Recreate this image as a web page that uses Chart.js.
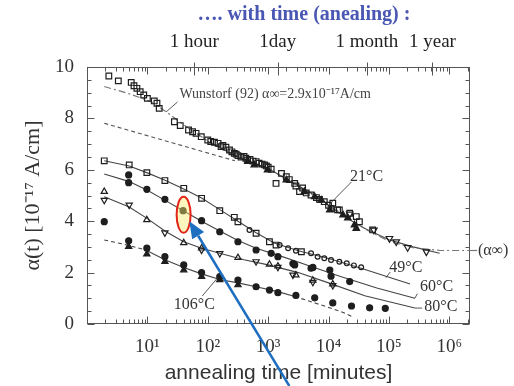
<!DOCTYPE html>
<html><head><meta charset="utf-8">
<script src="https://cdn.jsdelivr.net/npm/chart.js@4.4.0/dist/chart.umd.min.js"></script>
<style>html,body{margin:0;padding:0;background:#fff}#wrap{width:514px;height:386px}</style>
</head><body><div id="wrap"><canvas id="c" width="514" height="386"></canvas></div>
<script>
// ---- axis ticks ----
const xTickValues=[10,100,1000,10000,100000,1000000];
const xTickLabels=['10¹','10²','10³','10⁴','10⁵','10⁶'];
const yTickValues=[0,2,4,6,8,10];
const topTickValues=[60,1440,43200,525600];
const topTickLabels=['1 hour','1day','1 month','1 year'];

// ---- 21°C ----
const t21sq=[2.3,3.3,5.4,6.0,6.7,7.6,8.7,10,13,14.4,15.7,28,35,48,56,64,78,100,112,129,148,166,178,200,229,251,275,295,316,355,398,427,457,501,562,631,708,794,871,933,1000,1122,1350,1660,2000,2240,2750,2880,3310,3720,4270,5130,6300,7080,8500,10000,11000,11750,14100,15100,22400,28800,32400,53700];
const v21sq=[9.65,9.46,9.40,9.27,9.17,9.04,8.91,8.78,8.68,8.59,8.39,7.87,7.72,7.55,7.48,7.42,7.29,7.16,7.10,7.07,7.03,6.90,6.95,6.88,6.77,6.70,6.64,6.61,6.55,6.50,6.52,6.45,6.38,6.40,6.34,6.32,6.26,6.22,6.19,6.15,6.10,6.02,5.47,5.86,5.73,5.62,5.47,5.37,5.15,5.29,5.10,5.02,4.92,4.85,4.76,4.62,4.50,4.70,4.44,4.44,4.31,4.18,3.98,3.66];
const t21tri=[460,590,980,2000,3980,5900,7600,10500,17400,20900,26900,28800];
const v21tri=[6.32,6.19,5.99,5.60,5.15,4.95,4.82,4.44,4.24,4.12,3.85,3.72];
const t21inv=[22400,56200,102000,132000,204000,417000];
const v21inv=[4.28,3.66,3.33,3.20,2.98,2.81];
// ---- 49°C ----
const t49sq=[1.93,5.0,9.8,19.5,40,79,158,275,316,631,1050,1350,3550];
const v49sq=[6.35,6.19,5.89,5.58,5.28,4.89,4.41,4.15,3.98,3.53,3.20,3.07,2.81];
const t49ci=[490,1550,2140,2880,5130,6600,8500,11000,15100,20000,26300,34700];
const v49ci=[3.66,3.07,2.95,2.85,2.75,2.62,2.56,2.49,2.42,2.36,2.28,2.21];
// ---- 60°C ----
const t60=[4.9,4.9,9.8,19.5,39,79,158,316,631,1120,1450,2570,2750,5130,5500,10500,11000,22400];
const v60=[5.80,5.50,5.24,4.85,4.41,4.02,3.59,3.20,2.88,2.75,2.62,2.35,2.30,2.17,2.20,2.10,1.86,1.65];
// ---- 80°C ----
const t80up=[1.93,9.8,40,79,316,1050,1450,2880,5500,11750];
const v80up=[5.15,4.05,3.16,2.95,2.58,2.32,2.25,1.90,1.70,1.55];
const t80dn=[1.93,5.0,19.5,79,158,631,1450,2570,5500,11750];
const v80dn=[4.82,4.63,3.55,2.88,2.75,2.43,2.21,1.91,1.63,1.50];
// ---- 106°C ----
const t106ci=[1.93,4.9,9.8,19.5,40,79,158,316,631,1050,1450,2880,5900,11750,24000,47900,87000];
const v106ci=[3.98,3.24,2.95,2.62,2.30,2.00,1.84,1.71,1.45,1.32,1.22,1.11,1.02,0.82,0.70,0.63,0.61];
const t106tri=[4.9,9.8,19.5,40,79,158,316];
const v106tri=[3.01,2.72,2.43,2.10,1.84,1.72,1.52];
// ---- fitted curves ----
const tFitW=[1.93,4.7,11.5,20.4,40,100,316,1000,3160,10000,20000,40000,100000,251000,708000,2200000];
const vFitW=[9.24,8.98,8.65,8.26,7.75,7.12,6.50,6.05,5.35,4.65,4.15,3.70,3.22,2.97,2.86,2.86];
const tFit21=[100,316,1000,3160,6300,10000,20000,40000,100000,251000,692000];
const vFit21=[7.10,6.50,6.05,5.38,4.97,4.62,4.12,3.72,3.28,3.00,2.75];
const tFitLow=[1.93,282];
const vFitLow=[7.81,6.35];
const tFit49=[1.93,5.0,10,20,40,79,158,316,631,1260,3160,10000,31600,224000];
const vFit49=[6.35,6.15,5.88,5.58,5.25,4.90,4.45,4.00,3.55,3.15,2.85,2.55,2.20,1.56];
const tFit60=[1.93,4.9,10,20,40,79,158,316,631,1580,5010,15800,63100,269000];
const vFit60=[5.84,5.55,5.20,4.80,4.40,4.00,3.62,3.25,2.95,2.65,2.25,1.85,1.40,1.00];
const tFit80=[1.93,5.0,10,20,40,79,158,398,1000,3160,10000,39800,269000];
const vFit80=[4.95,4.55,4.10,3.60,3.20,2.95,2.75,2.50,2.30,2.00,1.60,1.10,0.62];
const tFit106=[1.93,4.7,9.4,19.5,40,79,158,316,631,1450,2750,6300,16200,25100];
const vFit106=[3.27,3.07,2.88,2.50,2.20,1.95,1.73,1.60,1.45,1.26,1.07,0.80,0.48,0.28];
const alphaInf=2.86;

const zip=(t,v)=>t.map((x,i)=>({x:x,y:v[i]}));
const INK='#1e1e1e';
function pts(t,v,style,r,fill,rot){
  return {data:zip(t,v),showLine:false,pointStyle:style,pointRadius:r,pointHoverRadius:r,
    pointBorderColor:INK,pointBackgroundColor:fill?INK:'rgba(0,0,0,0)',pointBorderWidth:1.2,pointRotation:rot||0,order:1};
}
function line(t,v,extra){
  return Object.assign({data:zip(t,v),showLine:true,pointRadius:0,borderColor:'#444',borderWidth:1.1,fill:false,order:2,tension:0},extra||{});
}

const datasets=[
  pts(t21sq,v21sq,'rect',4,false),
  pts(t21tri,v21tri,'triangle',3.8,true),
  pts(t21inv,v21inv,'triangle',3.8,false,180),
  pts(t49sq,v49sq,'rect',4,false),
  pts(t49ci,v49ci,'circle',2.4,false),
  pts(t60,v60,'circle',3,true),
  pts(t80up,v80up,'triangle',3.6,false),
  pts(t80dn,v80dn,'triangle',3.6,false,180),
  pts(t106ci,v106ci,'circle',3,true),
  pts(t106tri,v106tri,'triangle',3.6,true),
  line(tFitW,vFitW,{borderColor:'#777',borderWidth:1.2,borderDash:[7,3,2,3]}),
  line(tFit21,vFit21,{}),
  line(tFitLow,vFitLow,{borderColor:'#555',borderDash:[4,3]}),
  line(tFit49,vFit49,{}),
  line(tFit60,vFit60,{}),
  line(tFit80,vFit80,{}),
  line(tFit106,vFit106,{segment:{borderDash:c=>(c.p0.parsed.x<9||c.p0.parsed.x>=2750)?[4,3]:undefined}})
];

const tempLabels=[
  {text:'21°C',t:42700,v:5.72},
  {text:'49°C',t:190000,v:2.18},
  {text:'60°C',t:617000,v:1.44},
  {text:'80°C',t:724000,v:0.66},
  {text:'106°C',t:60,v:0.74}
];
const leaders=[
  [31.6,8.64,20.4,8.25],
  [24000,5.53,10500,4.67],
  [89000,1.80,105000,2.02],
  [269000,1.0,295000,1.18],
  [269000,0.62,355000,0.62],
  [81,1.09,145,1.79]
];

const SERIF='"Liberation Serif","Times New Roman",serif';
const decor={
  id:'decor',
  beforeDatasetsDraw(chart){
    const {ctx,chartArea:a,scales:{x,y}}=chart;
    ctx.save();
    ctx.strokeStyle='#555';ctx.lineWidth=1;
    const L=Math.round(a.left)+0.5,R=Math.round(a.right)-0.5,T=Math.round(a.top)+0.5,B=Math.round(a.bottom)-0.5;
    ctx.strokeRect(L,T,R-L,B-T);
    ctx.beginPath();
    for(let k=0;k<=6;k++){for(let m=1;m<=9;m++){
      const val=m*Math.pow(10,k); if(val<x.min||val>x.max) continue;
      const px=Math.round(x.getPixelForValue(val))+0.5; const len=m===1?7:4;
      ctx.moveTo(px,B);ctx.lineTo(px,B-len);ctx.moveTo(px,T);ctx.lineTo(px,T+len);
    }}
    for(let v=0;v<=10;v+=0.5){
      const py=Math.round(y.getPixelForValue(v))+0.5; const len=(v%2===0)?7:4;
      ctx.moveTo(L,py);ctx.lineTo(L+len,py);ctx.moveTo(R,py);ctx.lineTo(R-len,py);
    }
    topTickValues.forEach(val=>{const px=Math.round(x.getPixelForValue(val))+0.5;ctx.moveTo(px,T-5);ctx.lineTo(px,T+8);});
    ctx.stroke();
    ctx.restore();
  },
  afterDatasetsDraw(chart){
    const {ctx,chartArea:a,scales:{x,y}}=chart;
    const X=t=>x.getPixelForValue(t),Y=v=>y.getPixelForValue(v);
    ctx.save();
    // highlight ellipse
    ctx.beginPath();ctx.ellipse(X(39.8),Y(4.25),7,18,0,0,Math.PI*2);
    ctx.fillStyle='rgba(250,238,110,0.45)';ctx.fill();
    ctx.strokeStyle='#e3241b';ctx.lineWidth=2;ctx.stroke();
    // alpha-inf extension
    ctx.strokeStyle='#777';ctx.lineWidth=1.2;ctx.setLineDash([7,3,2,3]);
    ctx.beginPath();ctx.moveTo(a.right,Y(alphaInf));ctx.lineTo(a.right+7,Y(alphaInf));ctx.stroke();
    ctx.setLineDash([]);
    // leaders
    ctx.strokeStyle='#444';ctx.lineWidth=0.9;ctx.beginPath();
    leaders.forEach(l=>{ctx.moveTo(X(l[0]),Y(l[1]));ctx.lineTo(X(l[2]),Y(l[3]));});
    ctx.stroke();
    // labels
    ctx.fillStyle='#333';ctx.textBaseline='middle';
    ctx.font='16px '+SERIF;ctx.textAlign='center';
    tempLabels.forEach(l=>ctx.fillText(l.text,X(l.t),Y(l.v)));
    ctx.textAlign='left';
    ctx.fillText('(α∞)',a.right+8,Y(alphaInf));
    ctx.font='14px '+SERIF;ctx.fillStyle='#444';
    ctx.fillText('Wunstorf (92) α∞=2.9x10⁻¹⁷A/cm',X(33.9),Y(8.93));
    // title
    ctx.font='bold 20px '+SERIF;ctx.fillStyle='#4a57b3';ctx.textAlign='center';
    ctx.fillText('…. with time (anealing) :',304,15);
    ctx.restore();
  },
  afterDraw(chart){
    const {ctx,scales:{x,y}}=chart;
    const X=t=>x.getPixelForValue(t),Y=v=>y.getPixelForValue(v);
    const x1=X(2240),y1=Y(-2.41),x2=X(49.5),y2=Y(4.0);
    const ang=Math.atan2(y2-y1,x2-x1);const hl=17,hw=7;
    const bx=x2-hl*Math.cos(ang),by=y2-hl*Math.sin(ang);
    ctx.save();
    ctx.strokeStyle='#1f6fc1';ctx.fillStyle='#1f6fc1';ctx.lineWidth=2.5;
    ctx.beginPath();ctx.moveTo(x1,y1);ctx.lineTo(bx,by);ctx.stroke();
    ctx.beginPath();ctx.moveTo(x2,y2);
    ctx.lineTo(bx+hw*Math.sin(ang),by-hw*Math.cos(ang));
    ctx.lineTo(bx-hw*Math.sin(ang),by+hw*Math.cos(ang));
    ctx.closePath();ctx.fill();
    ctx.restore();
  }
};

new Chart(document.getElementById('c'),{
  type:'scatter',
  data:{datasets:datasets},
  plugins:[decor],
  options:{
    responsive:false,animation:false,devicePixelRatio:1,
    layout:{padding:{left:0,right:44,top:0,bottom:0}},
    plugins:{legend:{display:false},tooltip:{enabled:false},title:{display:false}},
    scales:{
      x:{type:'logarithmic',position:'bottom',min:1,max:2.2e6,
        afterBuildTicks:s=>{s.ticks=xTickValues.map(v=>({value:v}));},
        ticks:{callback:v=>xTickLabels[xTickValues.indexOf(v)],font:{family:SERIF,size:19},color:'#333',padding:12,maxRotation:0,autoSkip:false},
        grid:{display:false,drawTicks:false},border:{display:false},
        title:{display:true,text:'annealing time [minutes]',font:{family:'"Liberation Sans",Arial,sans-serif',size:21},color:'#333',padding:{top:0,bottom:0}},
        afterFit:s=>{s.height=62;}},
      x2:{type:'logarithmic',position:'top',min:1,max:2.2e6,
        afterBuildTicks:s=>{s.ticks=topTickValues.map(v=>({value:v}));},
        ticks:{callback:v=>topTickLabels[topTickValues.indexOf(v)],font:{family:SERIF,size:19},color:'#222',padding:14,maxRotation:0,autoSkip:false},
        grid:{display:false,drawTicks:false},border:{display:false},
        afterFit:s=>{s.height=67;}},
      y:{min:0,max:10,
        afterBuildTicks:s=>{s.ticks=yTickValues.map(v=>({value:v}));},
        ticks:{font:{family:SERIF,size:19},color:'#333',padding:13},
        grid:{display:false,drawTicks:false},border:{display:false},
        title:{display:true,text:'α(t) [10⁻¹⁷ A/cm]',font:{family:SERIF,size:22},color:'#333',padding:{top:20,bottom:0}},
        afterFit:s=>{s.width=87;}}
    }
  }
});
</script></body></html>
